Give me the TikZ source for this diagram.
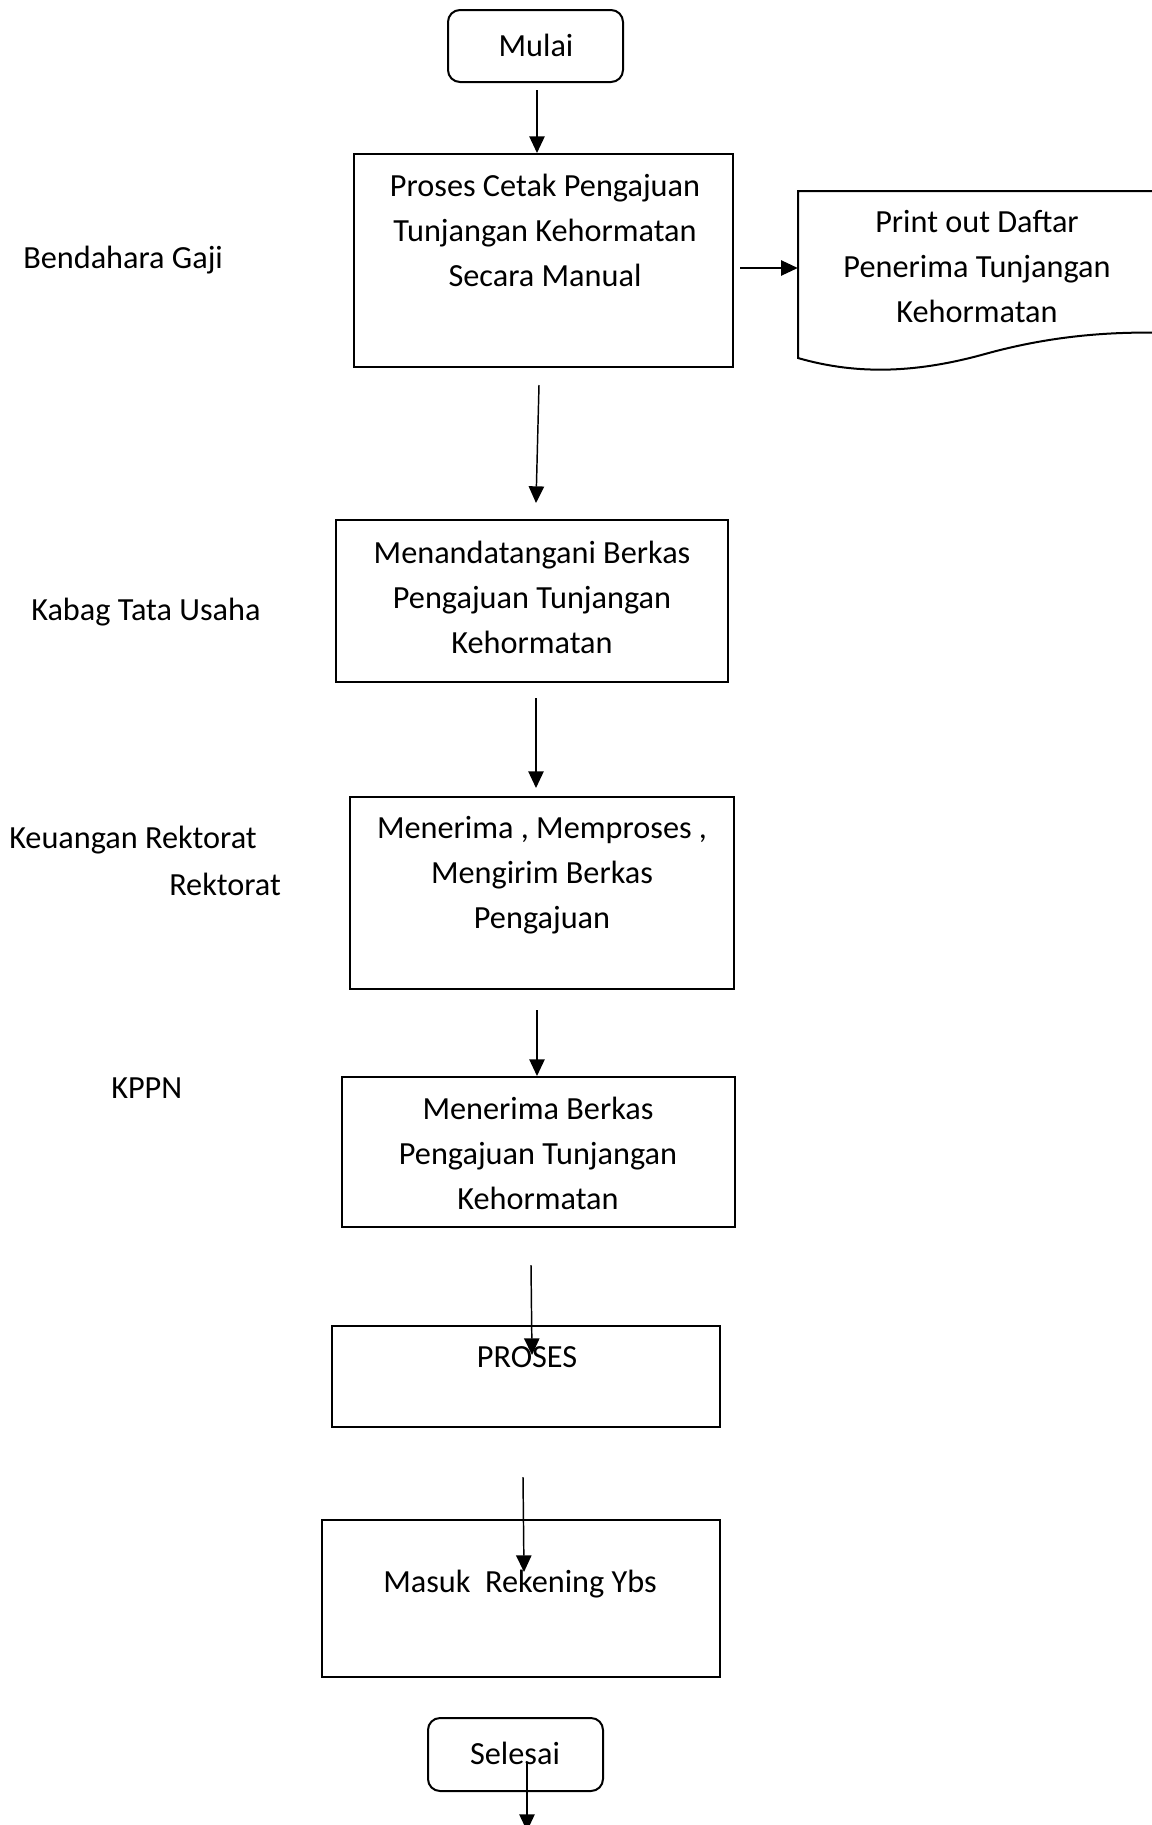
\documentclass[tikz,border=0pt]{standalone}
\usepackage{fontspec}
\setmainfont{Carlito}
\usetikzlibrary{arrows.meta,fit}
\begin{document}
\begin{tikzpicture}[x=0.75pt,y=-0.75pt,
  txtfont/.style={font=\fontsize{24.2}{33.75}\selectfont},
  box/.style={draw, line width=1.5pt, rectangle, inner sep=0pt},
  term/.style={box, rounded corners=9pt, txtfont},
  lbl/.style={txtfont, align=center, inner sep=0pt},
  side/.style={txtfont, anchor=west, inner sep=0pt},
  arr/.style={line width=1.1pt, -{Triangle[length=12.5pt,width=11.5pt]}}]
\useasboundingbox (0,0) rectangle (1152,1825);

% terminators
\node[term, fit={(448,10) (623,82)}] (mulai) {};
\node[lbl] (mulait) at (536,45) {Mulai};
\node[term, fit={(428,1718) (603,1791)}] (selesai) {};
\node[lbl] (selesait) at (515,1753) {Selesai};

% process boxes
\node[box, fit={(354,154) (733,367)}] (b1) {};
\node[lbl] (b1t) at (545,230) {Proses Cetak Pengajuan\\Tunjangan Kehormatan\\Secara Manual};
\node[box, fit={(336,520) (728,682)}] (b2) {};
\node[lbl] (b2t) at (532,597) {Menandatangani Berkas\\Pengajuan Tunjangan\\Kehormatan};
\node[box, fit={(350,797) (734,989)}] (b3) {};
\node[lbl] (b3t) at (542,875) {Menerima , Memproses ,\\Mengirim Berkas\\Pengajuan};
\node[box, fit={(342,1077) (735,1227)}] (b4) {};
\node[lbl] (b4t) at (538,1153) {Menerima Berkas\\Pengajuan Tunjangan\\Kehormatan};
\node[box, fit={(332,1326) (720,1427)}] (b5) {};
\node[lbl] (b5t) at (527,1357) {PROSES};
\node[box, fit={(322,1520) (720,1677)}] (b6) {};
\node[lbl] (b6t) at (520,1584) {Masuk~~Rekening Ybs};

% document shape (runs past the right edge)
\node[inner sep=0pt, fit={(798,191) (1152,358)}] (doc) {};
\draw[line width=1.5pt] (1170,191) -- (798,191) -- (798,358)
  .. controls (860,376) and (920,372) .. (985,354)
  .. controls (1050,336) and (1110,331) .. (1170,333);
\node[lbl] (doct) at (977,267) {Print out Daftar\\Penerima Tunjangan\\Kehormatan};

% lane labels
\node[side] (l1) at (23,260) {Bendahara Gaji};
\node[side] (l2) at (31,612) {Kabag Tata Usaha};
\node[side] (l3) at (9,840) {Keuangan Rektorat};
\node[side] (l3b) at (169,884) {Rektorat};
\node[side] (l4) at (111,1088) {KPPN};

% connectors
\coordinate (a1s) at (537,90);
\draw[arr] (a1s) -- (a1s |- b1.north);
\coordinate (ads) at (740,268);
\draw[arr] (ads) -- (ads -| doc.west);
\coordinate (a2s) at (539,385);
\coordinate (a2e) at (536,503);
\draw[arr] (a2s) -- (a2e);
\coordinate (a3s) at (536,698);
\coordinate (a3e) at (536,788);
\draw[arr] (a3s) -- (a3e);
\coordinate (a4s) at (537,1010);
\draw[arr] (a4s) -- (a4s |- b4.north);
\coordinate (a5s) at (531,1265);
\coordinate (a5e) at (532,1355);
\draw[arr] (a5s) -- (a5e);
\coordinate (a6s) at (523,1477);
\coordinate (a6e) at (524,1572);
\draw[arr] (a6s) -- (a6e);
\coordinate (a7s) at (527,1762);
\coordinate (a7e) at (527,1831);
\draw[arr] (a7s) -- (a7e);
\end{tikzpicture}
\end{document}
